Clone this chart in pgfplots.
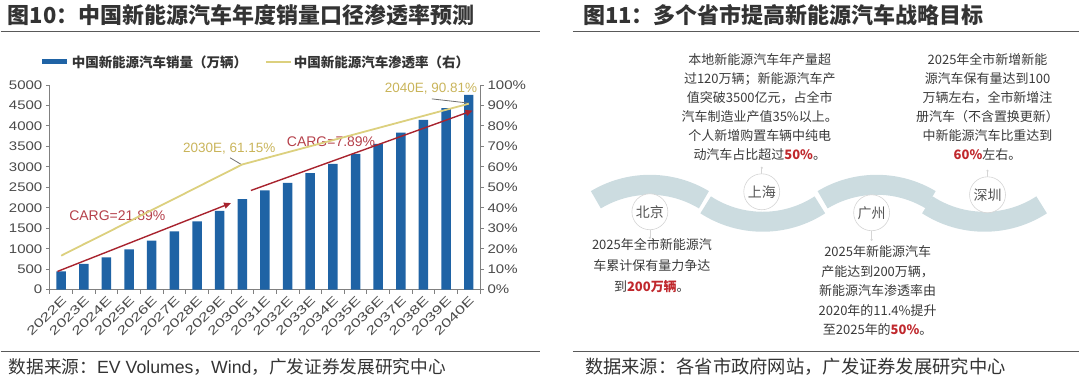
\documentclass[border=0pt]{standalone}
\usepackage{fontspec}
\setmainfont{Liberation Sans}
\newfontfamily\cjk{Noto Sans CJK SC}
\newfontfamily\tickfont{Liberation Sans}[FakeStretch=1.2]
\newfontfamily\xtickfont{Liberation Sans}[FakeStretch=1.45]
\usepackage{pgfplots}
\usepackage{pgfplotstable}
\pgfplotsset{compat=1.18}
\usetikzlibrary{arrows.meta}

\definecolor{barblue}{HTML}{1F63A5}
\definecolor{gold}{HTML}{DCD07E}
\definecolor{goldtxt}{HTML}{C9B45A}
\definecolor{darkred}{HTML}{A8232E}
\definecolor{redtxt}{HTML}{B5404A}
\definecolor{axgray}{HTML}{808080}
\definecolor{ticktxt}{HTML}{4A4A4A}
\definecolor{legtxt}{HTML}{333333}
\definecolor{wave}{HTML}{CCDCE0}
\definecolor{titlec}{HTML}{333333}
\definecolor{rulec}{HTML}{595959}
\definecolor{footc}{HTML}{333333}
\definecolor{bodyc}{HTML}{3A3A3A}
\definecolor{hl}{HTML}{C0282D}
\definecolor{circc}{HTML}{D5D5D5}
\definecolor{cityc}{HTML}{555555}
\definecolor{leader}{HTML}{707070}

\pgfplotstableread{
x sales pen
0 446 16.6
1 627 22.2
2 788 27.7
3 983 33.3
4 1195 38.9
5 1423 44.4
6 1667 50.0
7 1927 55.6
8 2211 61.15
9 2423 64.12
10 2610 67.08
11 2845 70.05
12 3073 73.01
13 3317 75.98
14 3561 78.95
15 3837 81.91
16 4146 84.88
17 4431 87.84
18 4756 90.81
}\data

\begin{document}
\begin{tikzpicture}
\begin{scope}[x=1pt,y=1pt]
\path (0,0) rectangle (1080,379);
% titles
\node[anchor=west, inner sep=0, text=titlec] at (7,364) {\cjk\bfseries\fontsize{22}{24}\selectfont 图10：中国新能源汽车年度销量口径渗透率预测};
\draw[rulec, line width=1.2pt] (0,347.5) -- (540,347.5);
\node[anchor=west,inner sep=0,text=titlec] at (583,364) {\cjk\bfseries\fontsize{22}{24}\selectfont 图11：多个省市提高新能源汽车战略目标};
\draw[rulec, line width=1.2pt] (573,347.5) -- (1080,347.5);
% footers
\draw[rulec, line width=1.2pt] (0,27.5) -- (540,27.5);
\draw[rulec, line width=1.2pt] (573,27.5) -- (1080,27.5);
\node[anchor=west, inner sep=0, text=footc] at (8,12) {\fontsize{17.7}{19}\selectfont{\cjk 数据来源：}EV Volumes{\cjk ，}Wind{\cjk ，广发证券发展研究中心}};
\node[anchor=west, inner sep=0, text=footc] at (585,12) {\cjk\fontsize{18.3}{20}\selectfont 数据来源：各省市政府网站，广发证券发展研究中心};
% wave
\draw[wave, line width=20pt] (650,89) ++(121:105pt) arc[start angle=121,end angle=59,radius=105pt];
\draw[wave, line width=20pt] (763,262) ++(237:105pt) arc[start angle=237,end angle=303,radius=105pt];
\draw[wave, line width=20pt] (877,89) ++(121:105pt) arc[start angle=121,end angle=59,radius=105pt];
\draw[wave, line width=20pt] (985,262) ++(237:105pt) arc[start angle=237,end angle=303,radius=105pt];
% connectors
\draw[circc, line width=0.6pt] (762,211) -- (762,205);
\fill[circc] (762,211) circle[radius=1.2pt];
\draw[circc, line width=0.6pt] (988,208) -- (988,202);
\fill[circc] (988,208) circle[radius=1.2pt];
\draw[circc, line width=0.6pt] (650,149) -- (650,141);
\fill[circc] (650,141) circle[radius=1.2pt];
\draw[circc, line width=0.6pt] (872,148) -- (872,139);
\fill[circc] (872,139) circle[radius=1.2pt];
% circles
\filldraw[fill=white, draw=circc, line width=0.6pt] (650,167) circle[radius=18pt];
\filldraw[fill=white, draw=circc, line width=0.6pt] (762,187) circle[radius=18pt];
\filldraw[fill=white, draw=circc, line width=0.6pt] (872,166) circle[radius=18pt];
\filldraw[fill=white, draw=circc, line width=0.6pt] (988,184) circle[radius=18pt];
\node[text=cityc, font=\cjk\fontsize{14}{16}\selectfont] at (650,167) {北京};
\node[text=cityc, font=\cjk\fontsize{14}{16}\selectfont] at (762,187) {上海};
\node[text=cityc, font=\cjk\fontsize{14}{16}\selectfont] at (872,166) {广州};
\node[text=cityc, font=\cjk\fontsize{14}{16}\selectfont] at (988,184) {深圳};
% text blocks
\node[align=center, text=bodyc, font=\cjk\fontsize{13}{19}\selectfont] at (760,271.5) {本地新能源汽车年产量超\\过120万辆；新能源汽车产\\值突破3500亿元，占全市\\汽车制造业产值35\%以上。\\个人新增购置车辆中纯电\\动汽车占比超过{\color{hl}\bfseries 50\%}。};
\node[align=center, text=bodyc, font=\cjk\fontsize{13}{19}\selectfont] at (988,271.5) {2025年全市新增新能\\源汽车保有量达到100\\万辆左右，全市新增注\\册汽车（不含置换更新）\\中新能源汽车比重达到\\{\color{hl}\bfseries 60\%}左右。};
\node[align=center, text=bodyc, font=\cjk\fontsize{13}{21}\selectfont] at (652,113) {2025年全市新能源汽\\车累计保有量力争达\\到{\color{hl}\bfseries 200万辆}。};
\node[align=center, text=bodyc, font=\cjk\fontsize{13}{19.5}\selectfont] at (878,88) {2025年新能源汽车\\产能达到200万辆，\\新能源汽车渗透率由\\2020年的11.4\%提升\\至2025年的{\color{hl}\bfseries 50\%}。};
\end{scope}

\begin{axis}[
  at={(49.3pt,89pt)}, anchor=south west,
  scale only axis, width=430.7pt, height=205pt,
  xmin=-0.5, xmax=18.5, ymin=0, ymax=5000,
  axis x line*=bottom, axis y line*=left,
  axis line style={draw=axgray, line width=0.8pt},
  tick align=outside,
  ytick={0,500,...,5000},
  xtick={0,...,18},
  xticklabels={2022E,2023E,2024E,2025E,2026E,2027E,2028E,2029E,2030E,2031E,2032E,2033E,2034E,2035E,2036E,2037E,2038E,2039E,2040E},
  minor xtick={-0.5,0.5,...,18.5},
  major x tick style={draw=none},
  minor x tick style={draw=axgray, line width=0.8pt},
  y tick style={draw=axgray, line width=0.8pt},
  major tick length=4pt, minor tick length=4pt,
  /pgf/number format/assume math mode=true,
  /pgf/number format/1000 sep={},
  tick label style={font=\tickfont\fontsize{12.5}{15}\selectfont, text=ticktxt},
  x tick label style={rotate=45, anchor=north east, font=\xtickfont\fontsize{12}{14}\selectfont, inner sep=1pt},
  legend style={draw=none, fill=none, at={(0.478,1.112)}, anchor=center, legend columns=2,
    /tikz/every even column/.append style={column sep=16pt},
    font=\cjk\bfseries\fontsize{13.5}{15}\selectfont, text=legtxt},
  legend cell align=left,
  clip=false,
]
\addplot[ybar, bar width=9.5pt, fill=barblue, draw=none,
  legend image code/.code={\draw[barblue, line width=5pt] (0pt,0pt) -- (25pt,0pt);}]
  table[x=x,y=sales]{\data};
\addlegendentry{中国新能源汽车销量（万辆）}
\addlegendimage{legend image code/.code={\draw[gold, line width=1.8pt] (0pt,0pt) -- (25pt,0pt);}}
\addlegendentry{中国新能源汽车渗透率（右）}
\draw[darkred, line width=1.4pt, -{Triangle[length=7pt,width=6pt]}] (axis cs:-0.16,446) -- (axis cs:7.5,2115);
\draw[darkred, line width=1.4pt, -{Triangle[length=7pt,width=6pt]}] (axis cs:8.38,2422) -- (axis cs:18.17,4373);
\node[text=redtxt, font=\fontsize{14}{16}\selectfont] at (axis cs:2.48,1805) {CARG=21.89\%};
\node[text=redtxt, font=\fontsize{14}{16}\selectfont] at (axis cs:11.92,3610) {CARG=7.89\%};
\node[text=goldtxt, font=\fontsize{13.5}{16}\selectfont] at (axis cs:7.42,3439) {2030E, 61.15\%};
\draw[leader, line width=0.8pt] (axis cs:7.46,3220) -- (axis cs:7.98,3049);
\node[text=goldtxt, font=\fontsize{13.5}{16}\selectfont] at (axis cs:16.33,4902) {2040E, 90.81\%};
\draw[leader, line width=0.8pt] (axis cs:16.37,4659) -- (axis cs:18.02,4554);
\end{axis}

\begin{axis}[
  at={(49.3pt,89pt)}, anchor=south west,
  scale only axis, width=430.7pt, height=205pt,
  xmin=-0.5, xmax=18.5, ymin=0, ymax=100,
  axis y line*=right, axis x line=none,
  axis line style={draw=axgray, line width=0.8pt},
  tick align=outside,
  ytick={0,10,...,100},
  yticklabel={\pgfmathprintnumber{\tick}\%},
  y tick style={draw=axgray, line width=0.8pt},
  major tick length=4pt,
  /pgf/number format/assume math mode=true,
  tick label style={font=\tickfont\fontsize{12.5}{15}\selectfont, text=ticktxt},
]
\addplot[gold, line width=1.8pt, mark=none] table[x=x,y=pen]{\data};
\end{axis}
\end{tikzpicture}
\end{document}
